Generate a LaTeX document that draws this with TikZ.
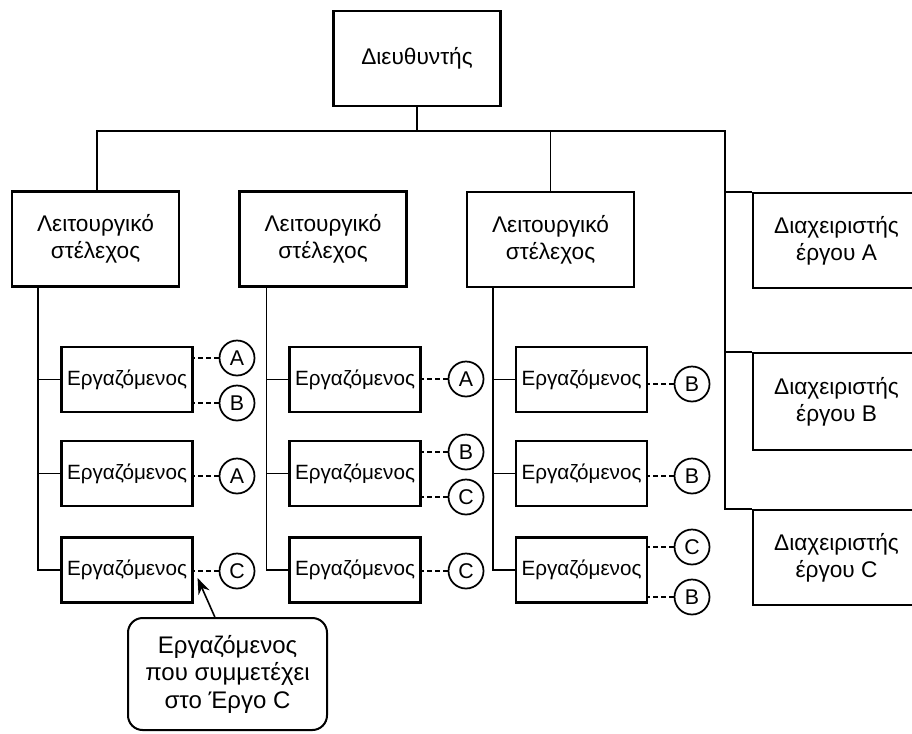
\documentclass[tikz,border=0pt]{standalone}
\usepackage{fontspec}
\setmainfont{Liberation Sans}
\usetikzlibrary{arrows.meta}
\tikzset{
  txt/.style={font=\fontsize{17}{20}\selectfont, align=center, inner sep=0pt},
  bigbox/.style={txt, draw, line width=1.6pt, minimum width=167*0.75pt, minimum height=95*0.75pt},
  empbox/.style={txt, font=\fontsize{15.5}{19}\selectfont, draw, line width=1.6pt, minimum width=131*0.75pt, minimum height=65*0.75pt},
  proj/.style={txt, font=\fontsize{16}{19}\selectfont, draw, circle, line width=1.3pt, minimum size=35*0.75pt},
  link/.style={line width=1.2pt},
  plink/.style={line width=1.2pt, dash pattern=on 3.5pt off 2.5pt},
  callout/.style={txt, font=\fontsize{18}{20.6}\selectfont, draw, line width=1.5pt, rounded corners=11pt, minimum width=199*0.75pt, minimum height=112*0.75pt}
}
\begin{document}
\begin{tikzpicture}[x=0.75pt,y=-0.75pt]
\useasboundingbox (0,0) rectangle (912,733);
\begin{scope}
\clip (0,0) rectangle (912,733);
% director
\node[bigbox] (dir) at (417,58.5) {Διευθυντής};
% functional staff
\node[bigbox] (fs1) at (95.5,239) {Λειτουργικό\\στέλεχος};
\node[bigbox] (fs2) at (323,239) {Λειτουργικό\\στέλεχος};
\node[bigbox] (fs3) at (550.5,239.5) {Λειτουργικό\\στέλεχος};
% project managers
\node[bigbox] (pmA) at (836.5,240.5) {Διαχειριστής\\έργου A};
\node[bigbox, minimum height=97*0.75pt] (pmB) at (836.5,401.5) {Διαχειριστής\\έργου B};
\node[bigbox] (pmC) at (836.5,557.5) {Διαχειριστής\\έργου C};
% employees
\node[empbox] (e11) at (127,379.5) {Εργαζόμενος};
\node[empbox] (e12) at (127,473.5) {Εργαζόμενος};
\node[empbox] (e13) at (127,570) {Εργαζόμενος};
\node[empbox] (e21) at (355,379.5) {Εργαζόμενος};
\node[empbox] (e22) at (355,473.5) {Εργαζόμενος};
\node[empbox] (e23) at (355,570) {Εργαζόμενος};
\node[empbox] (e31) at (581.5,379.5) {Εργαζόμενος};
\node[empbox] (e32) at (581.5,473.5) {Εργαζόμενος};
\node[empbox] (e33) at (581.5,570) {Εργαζόμενος};
% project circles
\node[proj] (c11a) at (237,358) {A};
\node[proj] (c11b) at (237,403) {B};
\node[proj] (c12a) at (237,476) {A};
\node[proj] (c13c) at (237,571) {C};
\node[proj] (c21a) at (466,379) {A};
\node[proj] (c22b) at (466,452) {B};
\node[proj] (c22c) at (466,497) {C};
\node[proj] (c23c) at (466,571) {C};
\node[proj] (c31b) at (692,384) {B};
\node[proj] (c32b) at (692,476) {B};
\node[proj] (c33c) at (692,547) {C};
\node[proj] (c33b) at (692,597) {B};
% dashed project links
\foreach \c/\e in {c11a/e11,c11b/e11,c12a/e12,c13c/e13,c21a/e21,c22b/e22,c22c/e22,c23c/e23,c31b/e31,c32b/e32,c33c/e33,c33b/e33}
  \draw[plink] (\c.west) -- (\c.west -| \e.east);
% hierarchy
\coordinate (busL) at (97,131);
\coordinate (busR) at (725,131);
\draw[link] (dir.south) -- (dir.south |- busL);
\draw[link] ([xshift=1.1pt]fs1.north) -- ([xshift=1.1pt]fs1.north |- busL) -- (busR) -- (busR |- pmC.north west) -- (pmC.north west);
\draw[link] (busR |- pmA.north west) -- (pmA.north west);
\draw[link] (busR |- pmB.north west) -- (pmB.north west);
\draw[link] (fs3.north |- busL) -- (fs3.north);
% column spines
\coordinate (s1) at ([xshift=27*0.75pt]fs1.south west);
\coordinate (s2) at ([xshift=28*0.75pt]fs2.south west);
\coordinate (s3) at ([xshift=27*0.75pt]fs3.south west);
\foreach \s/\a/\b/\c in {s1/e11/e12/e13, s2/e21/e22/e23, s3/e31/e32/e33}{
  \draw[link] (\s) |- (\c.west);
  \draw[link] (\s |- \a.west) -- (\a.west);
  \draw[link] (\s |- \b.west) -- (\b.west);
}
% callout
\node[callout] (note) at (227.5,674) {Εργαζόμενος\\που συμμετέχει\\στο Έργο C};
\draw[link, -{Stealth[length=12pt, width=9pt]}] ([xshift=-9.5pt]note.north) -- ([shift={(4,8)}]e13.east);
\end{scope}
\end{tikzpicture}
\end{document}
